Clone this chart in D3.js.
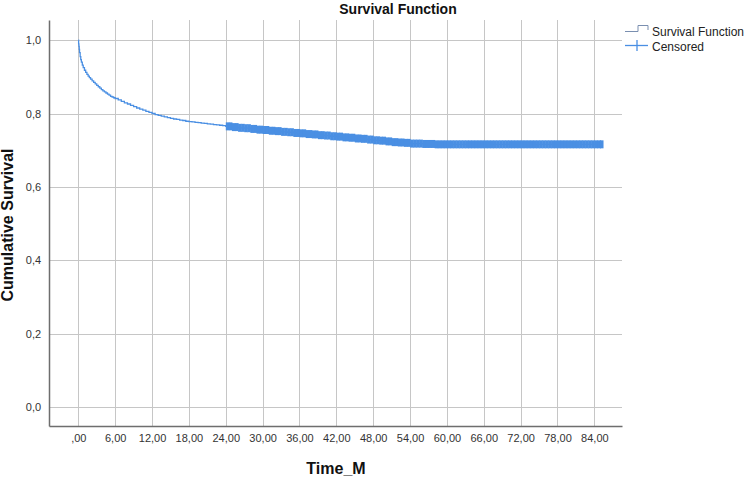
<!DOCTYPE html>
<html>
<head>
<meta charset="utf-8">
<script src="https://cdn.jsdelivr.net/npm/d3@7"></script>
<style>
  body { margin: 0; background: #fff; }
  text { font-family: "Liberation Sans", Arial, sans-serif; }
</style>
</head>
<body>
<script>
// Kaplan-Meier estimate
const survTime = [0, 0.05, 0.1, 0.15, 0.2, 0.3, 0.4, 0.5, 0.65, 0.8, 1, 1.2, 1.4, 1.6, 1.8, 2, 2.25, 2.5, 2.75,
  3, 3.25, 3.5, 3.75, 4, 4.25, 4.5, 4.75, 5, 5.25, 5.5, 5.75, 6, 6.5, 7, 7.5, 8, 8.5, 9, 9.5, 10, 10.5,
  11, 11.5, 12, 12.5, 13, 13.5, 14, 14.5, 15, 15.5, 16, 16.5, 17, 17.5, 18, 18.5, 19, 19.5, 20, 20.5,
  21, 21.5, 22, 22.5, 23, 23.5, 24, 25, 26, 27, 28, 29, 30, 31, 32, 33, 34, 35, 36, 37, 38, 39, 40,
  41, 42, 43, 44, 45, 46, 47, 48, 49, 50, 51, 52, 53, 54, 55, 56, 57, 58, 60, 85.4];
const survProb = [1.0, 0.99, 0.983, 0.975, 0.966, 0.955, 0.947, 0.94, 0.932, 0.925, 0.918, 0.912, 0.907,
  0.902, 0.898, 0.894, 0.889, 0.885, 0.881, 0.877, 0.873, 0.869, 0.865, 0.862, 0.859, 0.856, 0.853,
  0.85, 0.847, 0.845, 0.843, 0.841, 0.837, 0.833, 0.829, 0.826, 0.822, 0.819, 0.815, 0.812, 0.809,
  0.806, 0.803, 0.8, 0.797, 0.795, 0.793, 0.791, 0.789, 0.787, 0.785, 0.784, 0.782, 0.781, 0.779,
  0.778, 0.777, 0.776, 0.775, 0.774, 0.773, 0.772, 0.771, 0.77, 0.769, 0.768, 0.767, 0.765, 0.763,
  0.761, 0.76, 0.758, 0.756, 0.755, 0.753, 0.752, 0.75, 0.749, 0.747, 0.746, 0.744, 0.743, 0.741,
  0.74, 0.738, 0.737, 0.735, 0.734, 0.732, 0.731, 0.729, 0.727, 0.726, 0.724, 0.722, 0.721, 0.72,
  0.718, 0.718, 0.717, 0.717, 0.716, 0.716, 0.716];

// censored observations (months)
const censTime = [24.3, 24.8, 25.3, 25.8, 26.3, 26.8, 27.3, 27.8, 28.3, 28.8, 29.3, 29.8, 30.3, 30.8,
  31.3, 31.8, 32.3, 32.8, 33.3, 33.8, 34.3, 34.8, 35.3, 35.8, 36.3, 36.8, 37.3, 37.8, 38.3, 38.8,
  39.3, 39.8, 40.3, 40.8, 41.3, 41.8, 42.3, 42.8, 43.3, 43.8, 44.3, 44.8, 45.3, 45.8, 46.3, 46.8,
  47.3, 47.8, 48.3, 48.8, 49.3, 49.8, 50.3, 50.8, 51.3, 51.8, 52.3, 52.8, 53.3, 53.8, 54.3, 54.8,
  55.3, 55.8, 56.3, 56.8, 57.3, 57.8, 58.3, 58.8, 59.3, 59.8, 60.3, 60.8, 61.3, 61.8, 62.3, 62.8,
  63.3, 63.8, 64.3, 64.8, 65.3, 65.8, 66.3, 66.8, 67.3, 67.8, 68.3, 68.8, 69.3, 69.8, 70.3, 70.8,
  71.3, 71.8, 72.3, 72.8, 73.3, 73.8, 74.3, 74.8, 75.3, 75.8, 76.3, 76.8, 77.3, 77.8, 78.3, 78.8,
  79.3, 79.8, 80.3, 80.8, 81.3, 81.8, 82.3, 82.8, 83.3, 83.8, 84.3, 84.8, 85.2];

const xTicks = [0, 6, 12, 18, 24, 30, 36, 42, 48, 54, 60, 66, 72, 78, 84];
const xTickLabels = [",00", "6,00", "12,00", "18,00", "24,00", "30,00", "36,00", "42,00", "48,00",
  "54,00", "60,00", "66,00", "72,00", "78,00", "84,00"];
const yTicks = [0, 0.2, 0.4, 0.6, 0.8, 1.0];
const yTickLabels = ["0,0", "0,2", "0,4", "0,6", "0,8", "1,0"];

const width = 750, height = 478;
const margin = { top: 20, right: 128, bottom: 52, left: 49 };
const blue = "#4a8fe3";

const svg = d3.select("body").append("svg")
  .attr("width", width)
  .attr("height", height);

const x = d3.scaleLinear().domain([-4.77, 88.5]).range([margin.left, width - margin.right]);
const y = d3.scaleLinear().domain([-0.052, 1.055]).range([height - margin.bottom, margin.top]);

// grid
svg.append("g").selectAll("line").data(xTicks).join("line")
  .attr("x1", d => Math.round(x(d)) + 0.5).attr("x2", d => Math.round(x(d)) + 0.5)
  .attr("y1", margin.top).attr("y2", height - margin.bottom)
  .attr("stroke", "#c6c6c6");
svg.append("g").selectAll("line").data(yTicks).join("line")
  .attr("x1", margin.left).attr("x2", width - margin.right)
  .attr("y1", d => Math.round(y(d)) + 0.5).attr("y2", d => Math.round(y(d)) + 0.5)
  .attr("stroke", "#c6c6c6");

// axes
const xAxis = d3.axisBottom(x).tickValues(xTicks).tickSize(0)
  .tickFormat((d, i) => xTickLabels[i]);
svg.append("g")
  .attr("transform", `translate(0,${height - margin.bottom})`)
  .call(xAxis)
  .call(g => g.select(".domain").attr("stroke", "#6e6e6e").attr("stroke-width", 1.5))
  .call(g => g.selectAll("text").attr("dy", "1.15em").attr("font-size", 11).attr("fill", "#333")
    .attr("font-family", "Liberation Sans, Arial, sans-serif"));

const yAxis = d3.axisLeft(y).tickValues(yTicks).tickSize(0)
  .tickFormat((d, i) => yTickLabels[i]);
svg.append("g")
  .attr("transform", `translate(${margin.left},0)`)
  .call(yAxis)
  .call(g => g.select(".domain").attr("stroke", "#6e6e6e").attr("stroke-width", 1.5))
  .call(g => g.selectAll("text").attr("dx", "-0.45em").attr("font-size", 11).attr("fill", "#333")
    .attr("font-family", "Liberation Sans, Arial, sans-serif"));

// survival step curve
const pts = survTime.map((t, i) => [t, survProb[i]]);
const line = d3.line().x(d => x(d[0])).y(d => y(d[1])).curve(d3.curveStepAfter);
svg.append("path")
  .datum(pts)
  .attr("fill", "none")
  .attr("stroke", blue)
  .attr("stroke-width", 1.3)
  .attr("d", line);

// censored marks sit on the curve
const bis = d3.bisector(d => d).right;
const survAt = t => survProb[Math.max(0, bis(survTime, t) - 1)];
svg.append("g").selectAll("line").data(censTime).join("line")
  .attr("x1", d => x(d)).attr("x2", d => x(d))
  .attr("y1", d => y(survAt(d)) - 4).attr("y2", d => y(survAt(d)) + 4)
  .attr("stroke", blue)
  .attr("stroke-width", 3.6);

// titles
svg.append("text")
  .attr("x", 398).attr("y", 14)
  .attr("text-anchor", "middle")
  .attr("font-size", 14).attr("font-weight", "bold").attr("fill", "#111")
  .text("Survival Function");

svg.append("text")
  .attr("x", 336).attr("y", 474)
  .attr("text-anchor", "middle")
  .attr("font-size", 16).attr("font-weight", "bold").attr("fill", "#111")
  .text("Time_M");

svg.append("text")
  .attr("transform", "translate(13,225) rotate(-90)")
  .attr("text-anchor", "middle")
  .attr("font-size", 16).attr("font-weight", "bold").attr("fill", "#111")
  .text("Cumulative Survival");

// legend
const legend = svg.append("g");
legend.append("path")
  .attr("d", "M625,31.5H638V25.5H648V30")
  .attr("fill", "none").attr("stroke", "#7a8fb0").attr("stroke-width", 1);
legend.append("text").attr("x", 652).attr("y", 36)
  .attr("font-size", 12).attr("fill", "#222").text("Survival Function");
legend.append("line")
  .attr("x1", 625).attr("x2", 648).attr("y1", 45.5).attr("y2", 45.5)
  .attr("stroke", blue).attr("stroke-width", 1.3);
legend.append("line")
  .attr("x1", 637).attr("x2", 637).attr("y1", 40).attr("y2", 51)
  .attr("stroke", blue).attr("stroke-width", 1.3);
legend.append("text").attr("x", 652).attr("y", 51)
  .attr("font-size", 12).attr("fill", "#222").text("Censored");
</script>
</body>
</html>
